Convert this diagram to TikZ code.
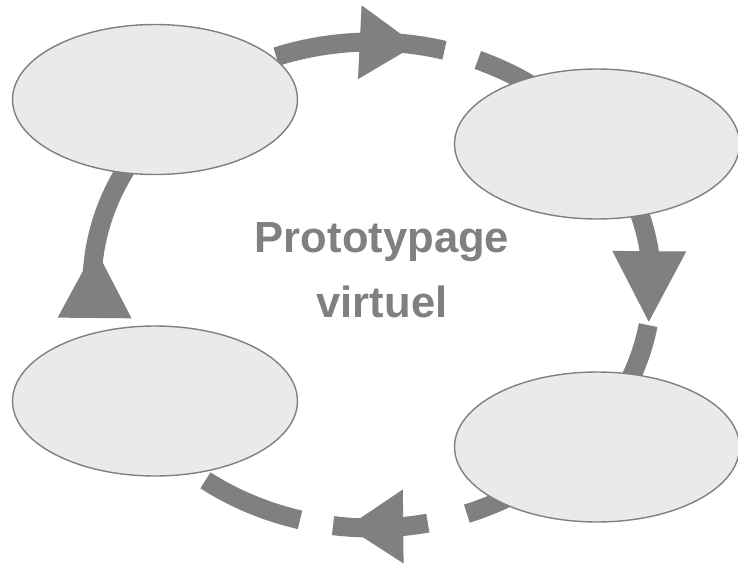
\documentclass[tikz,border=0pt]{standalone}
\usepackage{fontspec}
\setmainfont{Liberation Sans}
\usetikzlibrary{calc,shapes.geometric}
\definecolor{grisfonce}{HTML}{808080}
\definecolor{grisclair}{HTML}{EAEAEA}

\begin{document}
\begin{tikzpicture}[x=0.02cm, y=-0.02cm,
        bulle/.style={draw=grisfonce, line width=0.8pt, fill=grisclair, ellipse,
        minimum width=5.7cm, minimum height=3cm, inner sep=0pt},
        trait/.style={draw=grisfonce, line width=0.38cm},
        pointe/.style={fill=grisfonce},
        titre/.style={text=grisfonce, align=center, font=\fontsize{24.8}{37}\selectfont\bfseries}
    ]
        \useasboundingbox (0,0) rectangle (738,565);
        \coordinate (centre) at (372,285);
        % morceaux du cycle
        \foreach \debut/\fin in {250/285, 292.2/310, 340/361.5, 369.5/390, 55/70.2, 78.5/98, 104.9/126.5, 177/215}
            \draw[trait] ($(centre)+(\debut:280 and 243)$) arc[start angle=\debut, end angle=\fin, x radius=280, y radius=243];
        % pointes
        \foreach \base/\bout in {267.5/279, 352/368.7, 83.6/95.1, 172.2/188.7} {
            \coordinate (base) at ($(centre)+(\base:280 and 243)$);
            \coordinate (bout) at ($(centre)+(\bout:280 and 243)$);
            \fill[pointe] (bout) -- ($(base)!0.74cm!90:(bout)$) -- ($(base)!0.74cm!-90:(bout)$) -- cycle;
        }
        \node[bulle] (bulle1) at (155,99.5) {};
        \node[bulle] (bulle2) at (597,144) {};
        \node[bulle] (bulle3) at (597,447) {};
        \node[bulle] (bulle4) at (155,401) {};
        \node[titre] (titre) at (382,270) {Prototypage\\virtuel};
    \end{tikzpicture}
\end{document}
